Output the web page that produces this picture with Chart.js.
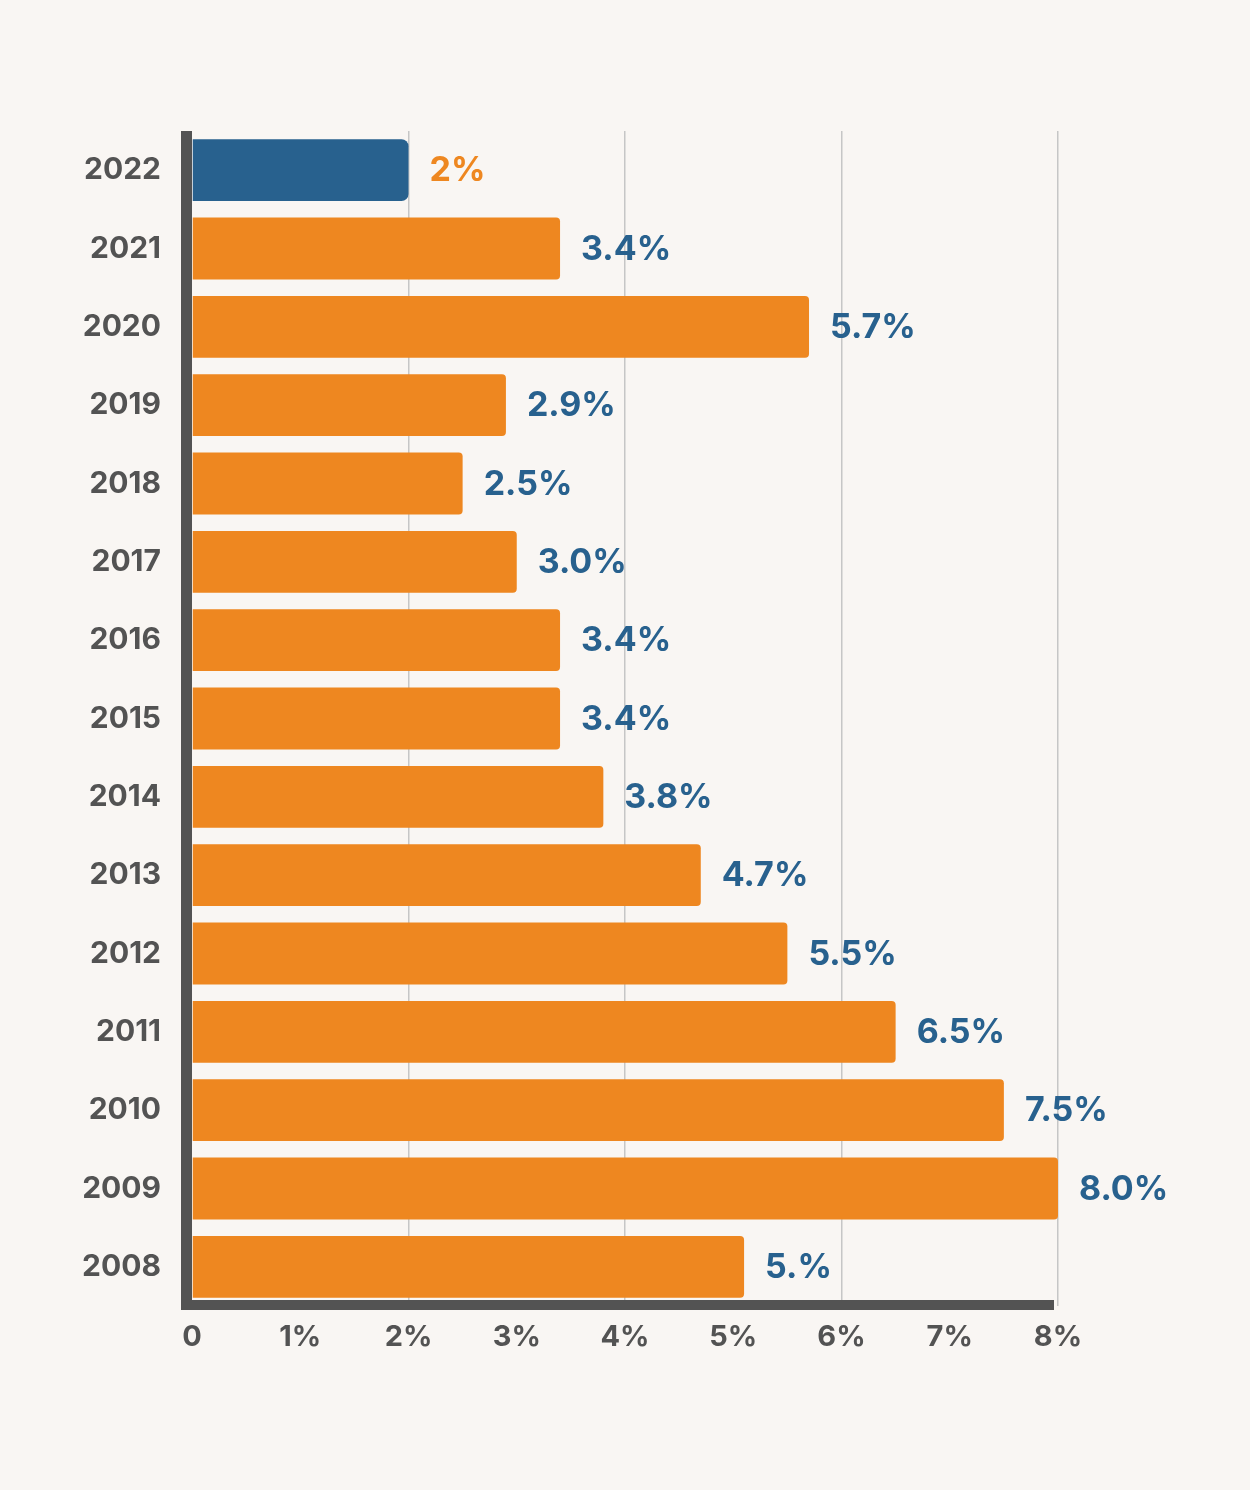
<!DOCTYPE html>
<html>
<head>
<meta charset="utf-8">
<script src="https://cdn.jsdelivr.net/npm/chart.js@4.4.0/dist/chart.umd.min.js"></script>
<style>
  html, body { margin: 0; padding: 0; background: #f9f6f3; }
  #wrap { width: 1250px; height: 1490px; position: relative; }
</style>
</head>
<body>
<div id="wrap"><canvas id="c"></canvas></div>
<script>
const years = ["2022","2021","2020","2019","2018","2017","2016","2015","2014","2013","2012","2011","2010","2009","2008"];
const rates = [2.0, 3.4, 5.7, 2.9, 2.5, 3.0, 3.4, 3.4, 3.8, 4.7, 5.5, 6.5, 7.5, 8.0, 5.1];
const rateLabels = ["2%","3.4%","5.7%","2.9%","2.5%","3.0%","3.4%","3.4%","3.8%","4.7%","5.5%","6.5%","7.5%","8.0%","5.%"];
const tickLabels = ["0","1%","2%","3%","4%","5%","6%","7%","8%"];

const ORANGE = "#ee8720";
const BLUE = "#28618e";
const DARK = "#535353";
const FONT = "Inter, Lato, sans-serif";

const barColors = years.map((y, i) => i === 0 ? BLUE : ORANGE);
const labelColors = years.map((y, i) => i === 0 ? ORANGE : BLUE);
const radii = years.map((y, i) => i === 0 ? 7 : 4);

const valueLabels = {
  id: 'valueLabels',
  afterDatasetsDraw(chart) {
    const ctx = chart.ctx;
    const meta = chart.getDatasetMeta(0);
    ctx.save();
    ctx.font = "bold 34px " + FONT;
    ctx.textAlign = "left";
    ctx.textBaseline = "middle";
    meta.data.forEach((bar, i) => {
      ctx.fillStyle = labelColors[i];
      ctx.fillText(rateLabels[i], bar.x + 21, bar.y + 1);
    });
    ctx.restore();
  }
};

const axisLines = {
  id: 'axisLines',
  afterDatasetsDraw(chart) {
    const ctx = chart.ctx;
    const a = chart.chartArea;
    const xs = chart.scales.x;
    ctx.save();
    ctx.fillStyle = DARK;
    ctx.fillRect(a.left - 11, a.top, 11, a.bottom + 4 - a.top);
    ctx.fillRect(a.left - 11, a.bottom - 6, xs.getPixelForValue(8) - 4 - (a.left - 11), 10);
    ctx.restore();
  }
};

new Chart(document.getElementById('c'), {
  type: 'bar',
  data: {
    labels: years,
    datasets: [{
      data: rates,
      backgroundColor: barColors,
      borderRadius: radii,
      borderSkipped: 'start',
      categoryPercentage: 0.79,
      barPercentage: 1.0
    }]
  },
  options: {
    indexAxis: 'y',
    responsive: true,
    maintainAspectRatio: false,
    animation: false,
    layout: { padding: { top: 131, right: 192, left: 0, bottom: 0 } },
    plugins: { legend: { display: false }, tooltip: { enabled: false } },
    scales: {
      x: {
        min: 0, max: 8,
        ticks: {
          stepSize: 1,
          padding: 14,
          color: DARK,
          font: { family: FONT, size: 29, weight: 'bold' },
          callback: (v, i) => tickLabels[i]
        },
        grid: {
          drawTicks: false,
          color: ctx => (ctx.tick && ctx.tick.value > 0 && ctx.tick.value % 2 === 0) ? '#c6c6c6' : 'rgba(0,0,0,0)',
          lineWidth: 1.5
        },
        border: { display: false },
        afterFit: s => { s.height = 184; }
      },
      y: {
        ticks: {
          padding: 31,
          color: DARK,
          font: { family: FONT, size: 30, weight: 'bold' }
        },
        grid: { display: false, drawTicks: false },
        border: { display: false },
        afterFit: s => { s.width = 192; }
      }
    }
  },
  plugins: [valueLabels, axisLines]
});
</script>
</body>
</html>
